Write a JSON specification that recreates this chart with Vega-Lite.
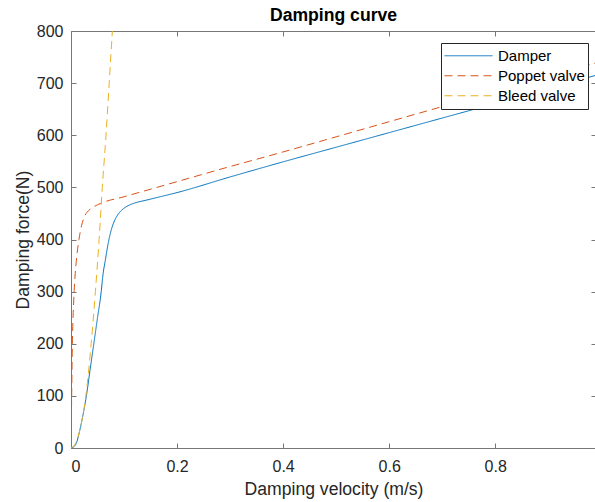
{
  "$schema": "https://vega.github.io/schema/vega-lite/v6.json",
  "autosize": {"type": "none"},
  "width": 525,
  "height": 417,
  "padding": {"left": 71, "top": 31, "right": 0, "bottom": 54},
  "background": "white",
  "config": {
    "view": {"stroke": null},
    "font": "Liberation Sans",
    "axis": {"grid": false, "domainColor": "#777777", "tickColor": "#777777", "labelColor": "#262626", "titleColor": "#262626", "labelFont": "Liberation Sans", "titleFont": "Liberation Sans", "labelFontSize": 16, "titleFontSize": 17.6, "titleFontWeight": "normal", "tickSize": -5, "domainWidth": 1, "tickWidth": 1},
    "legend": {"labelFontSize": 15, "labelFont": "Liberation Sans", "labelColor": "#000000", "labelLimit": 300, "symbolType": "stroke", "symbolSize": 2304, "symbolStrokeWidth": 1, "strokeColor": "#262626", "fillColor": "white", "padding": 3, "rowPadding": 0, "labelOffset": 5, "clipHeight": 19.5}
  },
  "title": {"text": "Damping curve", "fontSize": 17.6, "fontWeight": "bold", "color": "#000000", "font": "Liberation Sans", "offset": -2},
  "data": {"values": [
    {"s":"Damper","v":0,"f":0},{"s":"Damper","v":0.005,"f":2},{"s":"Damper","v":0.01,"f":9},{"s":"Damper","v":0.017,"f":36},{"s":"Damper","v":0.022,"f":60},{"s":"Damper","v":0.029,"f":100},{"s":"Damper","v":0.036,"f":150},{"s":"Damper","v":0.043,"f":200},{"s":"Damper","v":0.05,"f":250},{"s":"Damper","v":0.057,"f":300},{"s":"Damper","v":0.06,"f":330},{"s":"Damper","v":0.065,"f":362},{"s":"Damper","v":0.07,"f":392},{"s":"Damper","v":0.075,"f":415},{"s":"Damper","v":0.08,"f":431},{"s":"Damper","v":0.085,"f":442},{"s":"Damper","v":0.09,"f":450},{"s":"Damper","v":0.1,"f":460},{"s":"Damper","v":0.11,"f":466},{"s":"Damper","v":0.12,"f":470},{"s":"Damper","v":0.14,"f":475},{"s":"Damper","v":0.16,"f":480},{"s":"Damper","v":0.2,"f":490},{"s":"Damper","v":0.3,"f":520},{"s":"Damper","v":0.4,"f":549},{"s":"Damper","v":0.5,"f":577},{"s":"Damper","v":0.6,"f":605},{"s":"Damper","v":0.7,"f":633},{"s":"Damper","v":0.8,"f":661},{"s":"Damper","v":0.9,"f":690},{"s":"Damper","v":0.99,"f":715},
    {"s":"Poppet valve","v":0,"f":0},{"s":"Poppet valve","v":0.0005,"f":40},{"s":"Poppet valve","v":0.001,"f":80},{"s":"Poppet valve","v":0.0015,"f":120},{"s":"Poppet valve","v":0.002,"f":160},{"s":"Poppet valve","v":0.0025,"f":195},{"s":"Poppet valve","v":0.003,"f":220},{"s":"Poppet valve","v":0.004,"f":255},{"s":"Poppet valve","v":0.005,"f":280},{"s":"Poppet valve","v":0.006,"f":302},{"s":"Poppet valve","v":0.008,"f":335},{"s":"Poppet valve","v":0.01,"f":358},{"s":"Poppet valve","v":0.0125,"f":382},{"s":"Poppet valve","v":0.015,"f":400},{"s":"Poppet valve","v":0.0175,"f":415},{"s":"Poppet valve","v":0.02,"f":427},{"s":"Poppet valve","v":0.025,"f":443},{"s":"Poppet valve","v":0.03,"f":452},{"s":"Poppet valve","v":0.036,"f":458},{"s":"Poppet valve","v":0.045,"f":464},{"s":"Poppet valve","v":0.055,"f":469},{"s":"Poppet valve","v":0.1,"f":482},{"s":"Poppet valve","v":0.2,"f":511},{"s":"Poppet valve","v":0.3,"f":540},{"s":"Poppet valve","v":0.4,"f":568},{"s":"Poppet valve","v":0.5,"f":597},{"s":"Poppet valve","v":0.6,"f":626},{"s":"Poppet valve","v":0.7,"f":655},{"s":"Poppet valve","v":0.8,"f":684},{"s":"Poppet valve","v":0.9,"f":713},{"s":"Poppet valve","v":0.99,"f":739},
    {"s":"Bleed valve","v":0,"f":0},{"s":"Bleed valve","v":0.01,"f":12},{"s":"Bleed valve","v":0.02,"f":50},{"s":"Bleed valve","v":0.028,"f":100},{"s":"Bleed valve","v":0.038,"f":200},{"s":"Bleed valve","v":0.046,"f":300},{"s":"Bleed valve","v":0.053,"f":400},{"s":"Bleed valve","v":0.059,"f":500},{"s":"Bleed valve","v":0.066,"f":600},{"s":"Bleed valve","v":0.072,"f":700},{"s":"Bleed valve","v":0.078,"f":800}
  ]},
  "resolve": {"axis": {"x": "independent", "y": "independent"}},
  "layer": [
    {
      "mark": {"type": "line", "strokeWidth": 1, "clip": true, "interpolate": "monotone"},
      "encoding": {
        "x": {"field": "v", "type": "quantitative", "scale": {"domain": [0, 0.99], "nice": false, "zero": false},
          "axis": {"orient": "bottom", "values": [0, 0.2, 0.4, 0.6, 0.8], "title": "Damping velocity (m/s)", "labelPadding": 15, "titlePadding": 6, "format": "~g"}},
        "y": {"field": "f", "type": "quantitative", "scale": {"domain": [0, 800], "nice": false},
          "axis": {"orient": "left", "values": [0,100,200,300,400,500,600,700,800], "title": "Damping force(N)", "labelPadding": 13, "titlePadding": 4}},
        "color": {"field": "s", "type": "nominal", "sort": ["Damper", "Poppet valve", "Bleed valve"],
          "scale": {"domain": ["Damper", "Poppet valve", "Bleed valve"], "range": ["#0072BD", "#D95319", "#EDB120"]},
          "legend": {"title": null, "orient": "none", "legendX": 370, "legendY": 12}},
        "strokeDash": {"field": "s", "type": "nominal", "sort": ["Damper", "Poppet valve", "Bleed valve"],
          "scale": {"domain": ["Damper", "Poppet valve", "Bleed valve"], "range": [[1, 0], [8, 5], [8, 5]]},
          "legend": {"title": null, "orient": "none", "legendX": 370, "legendY": 12}}
      }
    },
    {
      "mark": {"type": "point", "opacity": 0},
      "encoding": {
        "x": {"field": "v", "type": "quantitative", "axis": {"orient": "top", "values": [0, 0.2, 0.4, 0.6, 0.8], "labels": false, "title": null}},
        "y": {"field": "f", "type": "quantitative", "axis": {"orient": "right", "values": [0,100,200,300,400,500,600,700,800], "labels": false, "title": null}}
      }
    }
  ]
}
